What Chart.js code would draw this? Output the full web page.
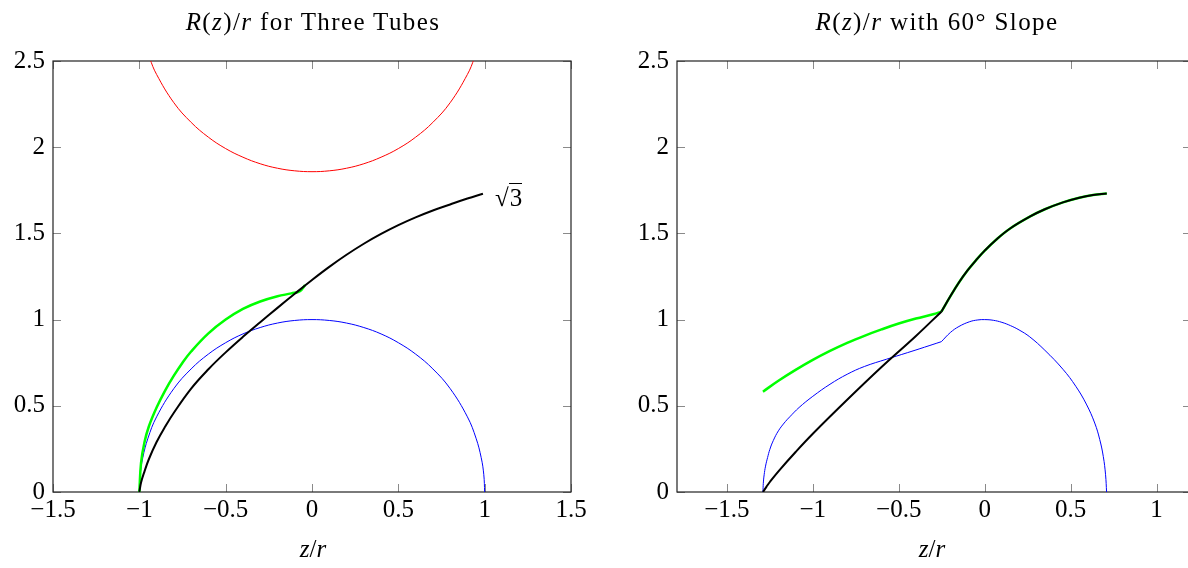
<!DOCTYPE html>
<html>
<head>
<meta charset="utf-8">
<script src="https://cdn.jsdelivr.net/npm/chart.js@4.4.1/dist/chart.umd.min.js"></script>
<style>
    html, body { margin: 0; padding: 0; background: #fff; }
    body { width: 1188px; height: 568px; overflow: hidden; position: relative;
           font-family: 'Liberation Serif', 'DejaVu Serif', serif; color: #000; }
    .panel { position: absolute; top: 0; width: 600px; height: 568px; }
    .label { position: absolute; font-size: 25px; white-space: nowrap; transform: translate(-50%, -50%); }
    .title { letter-spacing: 1.4px; }
    .sqrt3 { position: absolute; font-size: 25px; white-space: nowrap; transform: translate(0, -50%); }
    .sqrt3 .rad { border-top: 1.2px solid #000; padding-left: 1px; }
</style>
</head>
<body>
<div class="panel" style="left:0"><canvas id="left-chart" width="600" height="568"></canvas></div>
<div class="panel" style="left:600px"><canvas id="right-chart" width="600" height="568"></canvas></div>

<div class="label title" style="left:313px; top:22px"><i>R</i>(<i>z</i>)/<i>r</i> for Three Tubes</div>
<div class="label title" style="left:937px; top:22px"><i>R</i>(<i>z</i>)/<i>r</i> with 60° Slope</div>
<div class="label" style="left:313px; top:549px"><i>z</i>/<i>r</i></div>
<div class="label" style="left:932px; top:549px"><i>z</i>/<i>r</i></div>
<div class="sqrt3" style="left:495px; top:198px">√<span class="rad">3</span></div>

<script>
// tick values
const X_TICKS_LEFT  = [-1.5, -1, -0.5, 0, 0.5, 1, 1.5];
const X_TICKS_RIGHT = [-1.5, -1, -0.5, 0, 0.5, 1];
const Y_TICKS       = [0, 0.5, 1, 1.5, 2, 2.5];

// left panel: three tubes
const leftBlackZ = [-1, -0.99, -0.97, -0.945, -0.9, -0.85, -0.8, -0.7, -0.6, -0.5, -0.4, -0.3, -0.2, -0.1, 0, 0.1, 0.2, 0.3, 0.4, 0.5, 0.6, 0.7, 0.8, 0.9, 0.99];
const leftBlackR = [0, 0.055, 0.12, 0.19, 0.29, 0.38, 0.46, 0.6, 0.712, 0.81, 0.9, 0.985, 1.068, 1.15, 1.23, 1.306, 1.376, 1.44, 1.497, 1.548, 1.593, 1.633, 1.668, 1.702, 1.73];

const leftGreenZ = [-1, -0.99, -0.97, -0.945, -0.9, -0.85, -0.8, -0.75, -0.7, -0.6, -0.5, -0.4, -0.3, -0.2, -0.12, -0.07, -0.04];
const leftGreenR = [0, 0.17, 0.29, 0.38, 0.49, 0.59, 0.675, 0.75, 0.815, 0.92, 1.0, 1.062, 1.105, 1.135, 1.152, 1.165, 1.2];

const leftBlueZ = [-1, -0.995, -0.98, -0.95, -0.9, -0.8, -0.7, -0.6, -0.5, -0.4, -0.3, -0.2, -0.1, 0, 0.1, 0.2, 0.3, 0.4, 0.5, 0.6, 0.7, 0.8, 0.9, 0.95, 0.98, 0.995, 1];
const leftBlueR = [0, 0.1, 0.199, 0.312, 0.436, 0.6, 0.714, 0.8, 0.866, 0.917, 0.954, 0.98, 0.995, 1, 0.995, 0.98, 0.954, 0.917, 0.866, 0.8, 0.714, 0.6, 0.436, 0.312, 0.199, 0.1, 0];

const leftRedZ = [-0.97, -0.94, -0.9, -0.8, -0.7, -0.6, -0.5, -0.4, -0.3, -0.2, -0.1, 0, 0.1, 0.2, 0.3, 0.4, 0.5, 0.6, 0.7, 0.8, 0.9, 0.94, 0.97];
const leftRedR = [2.615, 2.517, 2.422, 2.258, 2.144, 2.058, 1.992, 1.942, 1.904, 1.878, 1.863, 1.858, 1.863, 1.878, 1.904, 1.942, 1.992, 2.058, 2.144, 2.258, 2.422, 2.517, 2.615];

// right panel: 60 degree slope, each curve split at the kink z = -0.252
const rightBlackLowZ = [-1.29, -1.27, -1.25, -1.2, -1.1, -1.0, -0.8, -0.6, -0.4, -0.252];
const rightBlackLowR = [0, 0.03, 0.058, 0.12, 0.232, 0.338, 0.535, 0.725, 0.905, 1.046];

const rightCapZ = [-0.252, -0.2, -0.15, -0.1, -0.05, 0, 0.068, 0.15, 0.262, 0.35, 0.455, 0.55, 0.63, 0.71];
const rightCapR = [1.046, 1.135, 1.215, 1.285, 1.345, 1.4, 1.465, 1.53, 1.597, 1.64, 1.68, 1.707, 1.723, 1.732];

const rightGreenLowZ = [-1.29, -1.2, -1.1, -1.0, -0.9, -0.8, -0.7, -0.6, -0.5, -0.4, -0.3, -0.252];
const rightGreenLowR = [0.582, 0.645, 0.708, 0.766, 0.818, 0.865, 0.906, 0.943, 0.977, 1.006, 1.031, 1.046];

const rightBlueLowZ = [-1.29, -1.288, -1.283, -1.275, -1.263, -1.25, -1.23, -1.2, -1.16, -1.134, -1.08, -1.0, -0.9, -0.8, -0.7, -0.572, -0.45, -0.35, -0.252];
const rightBlueLowR = [0, 0.05, 0.1, 0.15, 0.2, 0.247, 0.298, 0.355, 0.408, 0.436, 0.49, 0.555, 0.625, 0.683, 0.728, 0.77, 0.808, 0.84, 0.872];

const rightBlueCapZ = [-0.252, -0.2, -0.15, -0.087, -0.04, 0, 0.05, 0.1, 0.15, 0.2, 0.262, 0.35, 0.455, 0.53, 0.591, 0.64, 0.669, 0.69, 0.703, 0.709];
const rightBlueCapR = [0.872, 0.925, 0.96, 0.988, 0.998, 1, 0.996, 0.984, 0.965, 0.94, 0.9, 0.822, 0.712, 0.613, 0.51, 0.4, 0.305, 0.205, 0.1, 0];

const FONT = { family: "'Liberation Serif', 'DejaVu Serif', serif", size: 25 };
const TICK_LEN = 8;

function pts(zs, rs) {
    return zs.map((z, i) => ({ x: z, y: rs[i] }));
}

function fmt(v) {
    return v < 0 ? '\u2212' + Math.abs(v) : String(v);
}

function line(ctx, x1, y1, x2, y2) {
    ctx.beginPath();
    ctx.moveTo(x1, y1);
    ctx.lineTo(x2, y2);
    ctx.stroke();
}

// pgfplots-style box with inward ticks on all four sides
const frameTicks = {
    id: 'frameTicks',
    beforeDatasetsDraw(chart) {
        const { ctx, chartArea: a, scales: { x, y } } = chart;
        ctx.save();
        ctx.strokeStyle = '#8a8a8a';
        ctx.lineWidth = 1;
        x.ticks.forEach(t => {
            const px = Math.round(x.getPixelForValue(t.value)) + 0.5;
            line(ctx, px, a.bottom, px, a.bottom - TICK_LEN);
            line(ctx, px, a.top, px, a.top + TICK_LEN);
        });
        y.ticks.forEach(t => {
            const py = Math.round(y.getPixelForValue(t.value)) + 0.5;
            line(ctx, a.left, py, a.left + TICK_LEN, py);
            line(ctx, a.right, py, a.right - TICK_LEN, py);
        });
        ctx.strokeStyle = '#222';
        ctx.lineWidth = 1.2;
        ctx.strokeRect(a.left, a.top, a.right - a.left, a.bottom - a.top);
        ctx.restore();
    },
};

function series(data, color, width, extra) {
    return Object.assign({
        data,
        borderColor: color,
        borderWidth: width,
        pointRadius: 0,
        showLine: true,
        fill: false,
        tension: 0.4,
    }, extra || {});
}

function makeChart(id, datasets, xMin, xMax, xTicks, yWidth, padRight) {
    return new Chart(document.getElementById(id), {
        type: 'scatter',
        data: { datasets },
        options: {
            responsive: false,
            devicePixelRatio: 1,
            animation: false,
            events: [],
            layout: { padding: { left: 0, right: padRight, top: 61, bottom: 0 } },
            plugins: { legend: { display: false }, tooltip: { enabled: false } },
            scales: {
                x: {
                    type: 'linear', min: xMin, max: xMax,
                    grid: { display: false, drawTicks: false },
                    border: { display: false },
                    afterBuildTicks: axis => { axis.ticks = xTicks.map(value => ({ value })); },
                    afterFit: axis => { axis.height = 76; },
                    ticks: { font: FONT, color: '#000', padding: 3, maxRotation: 0, callback: fmt },
                },
                y: {
                    type: 'linear', min: 0, max: 2.5,
                    grid: { display: false, drawTicks: false },
                    border: { display: false },
                    afterBuildTicks: axis => { axis.ticks = Y_TICKS.map(value => ({ value })); },
                    afterFit: axis => { axis.width = yWidth; },
                    ticks: { font: FONT, color: '#000', padding: 8, callback: fmt },
                },
            },
        },
        plugins: [frameTicks],
    });
}

// first dataset is drawn on top
makeChart('left-chart', [
    series(pts(leftBlackZ, leftBlackR), '#000000', 2),
    series(pts(leftGreenZ, leftGreenR), '#00ff00', 2.5),
    series(pts(leftBlueZ, leftBlueR), '#0000ff', 1),
    series(pts(leftRedZ, leftRedR), '#ff0000', 1, { clip: 0 }),
], -1.5, 1.5, X_TICKS_LEFT, 53, 29);

makeChart('right-chart', [
    series(pts(rightBlackLowZ, rightBlackLowR), '#000000', 2),
    series(pts(rightCapZ, rightCapR), '#000000', 2),
    series(pts(rightGreenLowZ, rightGreenLowR), '#00ff00', 2.5),
    series(pts(rightCapZ, rightCapR), '#00ff00', 2.5),
    series(pts(rightBlueLowZ, rightBlueLowR), '#0000ff', 1),
    series(pts(rightBlueCapZ, rightBlueCapR), '#0000ff', 1),
], -1.79, 1.2, X_TICKS_RIGHT, 77, 9);
</script>
</body>
</html>
